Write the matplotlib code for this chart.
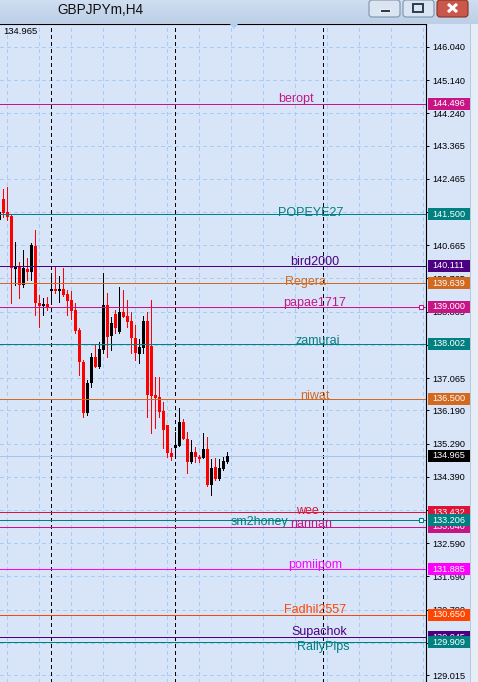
import numpy as np
import matplotlib.pyplot as plt
from matplotlib.patches import Rectangle, FancyBboxPatch, Polygon
from matplotlib.colors import LinearSegmentedColormap
import matplotlib.transforms as mtransforms

# GBPJPYm H4 candles (oldest first)
opens = [141.350, 141.920, 141.567, 141.459, 140.022, 140.076, 139.588, 140.022, 139.941, 140.646,
         139.101, 139.019, 139.073, 139.426, 139.480, 139.426, 139.480, 139.344, 139.182, 138.911,
         138.368, 137.501, 136.118, 136.932, 137.637, 137.366, 137.826, 139.046, 138.206, 138.803,
         138.314, 138.857, 138.748, 138.613, 138.151, 137.718, 137.880, 138.613, 137.935, 136.607,
         136.553, 136.173, 135.793, 135.035, 135.170, 135.226, 135.875, 135.414, 134.790, 135.062,
         134.926, 134.899, 135.143, 134.167, 134.655, 134.330, 134.601, 134.790]
highs = [141.893, 142.191, 142.245, 141.486, 140.754, 140.211, 140.537, 140.320, 140.727, 141.079,
         139.317, 139.236, 139.263, 139.805, 140.103, 139.832, 140.049, 139.453, 139.426, 139.101,
         138.423, 137.555, 137.014, 137.745, 137.962, 138.043, 139.914, 139.371, 138.721, 138.911,
         139.534, 139.453, 139.182, 138.857, 138.504, 138.124, 138.748, 138.857, 139.182, 137.095,
         137.095, 136.417, 135.793, 135.170, 135.604, 136.254, 135.956, 135.604, 135.387, 135.198,
         134.981, 135.577, 135.468, 134.872, 134.899, 134.872, 134.926, 135.062]
lows = [141.296, 141.432, 141.350, 139.101, 139.588, 139.236, 139.534, 139.724, 139.724, 138.775,
        138.450, 138.775, 138.911, 139.101, 139.371, 139.128, 139.290, 138.775, 138.667, 138.287,
        137.149, 136.010, 136.064, 136.824, 137.366, 137.339, 137.745, 137.637, 137.826, 138.287,
        138.287, 138.721, 138.450, 137.745, 137.555, 137.474, 137.745, 136.010, 135.577, 135.712,
        136.010, 135.170, 134.926, 134.845, 134.899, 135.226, 135.414, 134.492, 134.763, 134.790,
        134.790, 134.899, 134.140, 133.896, 134.303, 134.303, 134.574, 134.763]
closes = [141.567, 141.540, 141.432, 140.049, 140.076, 139.588, 140.049, 139.941, 140.673, 139.101,
          139.019, 139.073, 138.992, 139.480, 139.426, 139.480, 139.317, 139.155, 138.884, 138.341,
          137.501, 136.118, 136.932, 137.637, 137.366, 137.853, 139.046, 138.179, 138.558, 138.423,
          138.857, 138.721, 138.586, 138.151, 137.745, 137.907, 138.613, 136.607, 136.580, 136.525,
          136.146, 135.658, 135.035, 134.926, 135.253, 135.875, 135.414, 134.790, 135.062, 134.926,
          134.872, 135.143, 134.167, 134.628, 134.330, 134.628, 134.818, 134.965]

bid = 134.965
separators = [13, 44, 81]   # candle index of period separators

# price scale ticks
yticks = [146.040, 145.140, 144.240, 143.365, 142.465, 141.565, 140.665, 139.765, 138.865, 137.965,
          137.065, 136.190, 135.290, 134.390, 133.490, 132.590, 131.690, 130.790, 129.890, 129.015]

# horizontal level lines
level_names = ['beropt', 'POPEYE27', 'bird2000', 'Regera', 'papae1717', 'zamurai', 'niwat',
               'wee', 'nannan', 'sm2honey', 'pomiipom', 'Fadhil2557', 'Supachok', 'RallyPips']
level_prices = [144.496, 141.500, 140.111, 139.639, 139.000, 138.002, 136.500,
                133.432, 133.040, 133.206, 131.885, 130.650, 130.045, 129.909]
level_colors = ['#C71585', '#008080', '#4B0082', '#D2691E', '#C71585', '#008080', '#D2691E',
                '#DC143C', '#C71585', '#008080', '#FF00FF', '#FF4500', '#4B0082', '#008080']
marked = ['papae1717', 'sm2honey']

# where each name is written: x centre in px, baseline offset in px (down)
name_layout = {'beropt': (296, -2), 'POPEYE27': (311, 2), 'bird2000': (315, -1), 'Regera': (306, 2),
               'papae1717': (315, -1), 'zamurai': (318, 0), 'niwat': (315, 0), 'wee': (307, 2),
               'nannan': (311, 0), 'sm2honey': (259, 5), 'pomiipom': (315, -1),
               'Fadhil2557': (315, -2), 'Supachok': (319, -2), 'RallyPips': (323, 8)}

W, H = 478, 682
PLOT_W = 426
TOP = 24
BG = '#d8e4f8'
GRID = '#a9ccf3'
PX = 0.72  # one pixel in points

fig = plt.figure(figsize=(W / 100, H / 100), dpi=100)
fig.patch.set_facecolor(BG)

ax = fig.add_axes([0, 0, PLOT_W / W, (H - TOP) / H])
ax.set_facecolor(BG)
ax.set_xlim(0.175, 0.175 + PLOT_W / 4)
ax.set_ylim(128.826, 146.663)

for s in ['left', 'bottom']:
    ax.spines[s].set_visible(False)
for s in ['top', 'right']:
    ax.spines[s].set_color('black')
    ax.spines[s].set_linewidth(0.8)

ax.set_xticks([])
ax.yaxis.tick_right()
ax.set_yticks(yticks)
ax.set_yticklabels(['%.3f' % v for v in yticks])
ax.tick_params(axis='y', length=2.5, width=0.7, pad=2.2, labelsize=6.6, colors='black')
for lab in ax.get_yticklabels():
    lab.set_fontfamily('Liberation Sans')

# grid
for v in yticks:
    ax.axhline(v, color=GRID, lw=PX, ls=(0, (4, 3.5)), zorder=1, antialiased=False)
for gx in range(2, 107, 8):
    ax.axvline(gx, color=GRID, lw=PX, ls=(0, (4, 3.5)), zorder=1, antialiased=False)
for sx in separators:
    ax.axvline(sx, color='black', lw=PX, ls=(0, (3, 3)), zorder=1.5, antialiased=False)

# candles
idx = np.arange(len(opens))
o = np.array(opens)
c = np.array(closes)
cols = np.where(c >= o, 'black', '#ff0000')
ax.vlines(idx, lows, highs, colors=cols, lw=PX, zorder=3, antialiased=False)
body = np.maximum(np.abs(c - o), 0.03)
ax.bar(idx, body, bottom=np.minimum(o, c), width=0.85, color=cols, linewidth=0, zorder=3.5)

# bid line
ax.axhline(bid, color='#a4c6ee', lw=PX, zorder=2, antialiased=False)

trans = mtransforms.blended_transform_factory(ax.transAxes, ax.transData)
half = 6 / 36.89

# level lines, names, markers
for name, price, col in zip(level_names, level_prices, level_colors):
    ax.axhline(price, color=col, lw=PX, zorder=4, antialiased=False)
    px, dy = name_layout[name]
    ax.annotate(name, xy=(px / PLOT_W, price), xycoords=trans, xytext=(0, -dy),
                textcoords='offset pixels', ha='center', va='baseline', color=col,
                fontsize=9, family='Liberation Sans', zorder=5)
    if name in marked:
        ax.plot([421 / PLOT_W], [price], marker='s', ms=3.5, mfc='white', mec=col, mew=0.8,
                transform=trans, clip_on=False, zorder=6)

# price labels on the scale
box_order = list(zip(level_prices, level_colors)) + [(bid, 'black')]
for k, (price, col) in enumerate(box_order):
    ax.add_patch(Rectangle((428 / PLOT_W, price - half), 42 / PLOT_W, 2 * half, transform=trans,
                           facecolor=col, edgecolor='none', clip_on=False, zorder=10 + k))
    ax.text(432 / PLOT_W, price, '%.3f' % price, transform=trans, ha='left', va='center',
            color='white', fontsize=6.6, family='Liberation Sans', clip_on=False, zorder=10.5 + k)

# chart shift marker
ax.add_patch(Polygon([(230 / PLOT_W, 1.0), (238 / PLOT_W, 1.0), (234 / PLOT_W, 1 - 5 / (H - TOP))],
                     closed=True, transform=ax.transAxes, facecolor='#a8d0f8', edgecolor='none',
                     clip_on=False, zorder=6))

fig.text(3 / W, 1 - 32 / H, '134.965', fontsize=6.8, family='Liberation Sans', va='center',
         color='black')

# right window edge
fig.add_artist(Rectangle((470 / W, 0), 8 / W, (H - TOP) / H, transform=fig.transFigure,
                         facecolor='#e6edf7', edgecolor='none'))
fig.add_artist(Rectangle((470 / W, 0), 1 / W, (H - TOP) / H, transform=fig.transFigure,
                         facecolor='#b9c9dc', edgecolor='none'))

# title bar
tax = fig.add_axes([0, (H - TOP) / H, 1, TOP / H])
tax.set_xlim(0, W)
tax.set_ylim(TOP, 0)
tax.axis('off')
grad = np.linspace(0, 1, 24).reshape(-1, 1)
cmap = LinearSegmentedColormap.from_list('tb', ['#cfdef0', '#bccfe7'])
tax.imshow(grad, extent=(0, W, TOP, 0), aspect='auto', cmap=cmap)
tax.text(57, 10.5, 'GBPJPYm,H4', va='center', ha='left', fontsize=9.8, color='#111111',
         family='Liberation Sans')

for bx in [369, 403]:
    tax.add_patch(FancyBboxPatch((bx, 0), 31, 17, boxstyle='round,pad=0,rounding_size=3',
                                 facecolor='#dbe5f2', edgecolor='#7f93ad', lw=0.8))
tax.add_patch(Rectangle((380, 9), 10, 3, facecolor='#2e3b4c', edgecolor='white', lw=0.6))
tax.add_patch(Rectangle((413, 4), 10, 8, facecolor='none', edgecolor='#2e3b4c', lw=1.4))
tax.add_patch(FancyBboxPatch((437, 0), 31, 17, boxstyle='round,pad=0,rounding_size=3',
                             facecolor='#c9574a', edgecolor='#8a3028', lw=0.8))
tax.plot([448, 457], [4, 12], color='white', lw=2.2, solid_capstyle='butt')
tax.plot([448, 457], [12, 4], color='white', lw=2.2, solid_capstyle='butt')

plt.savefig('out.png', dpi=100, facecolor=fig.get_facecolor())
